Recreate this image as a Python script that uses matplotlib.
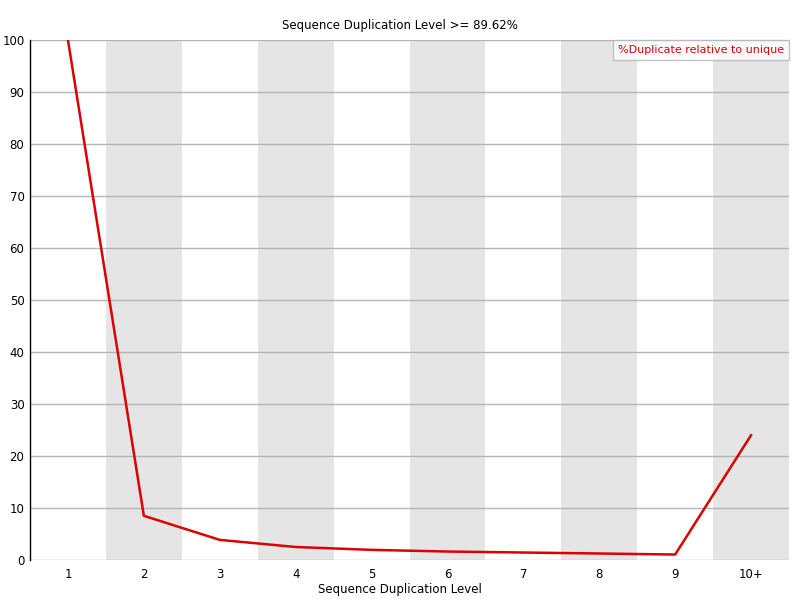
import matplotlib
matplotlib.use("Agg")
import matplotlib.pyplot as plt

# Data
levels = ["1", "2", "3", "4", "5", "6", "7", "8", "9", "10+"]
dup_pct = [100.0, 8.5, 3.87, 2.5, 1.95, 1.63, 1.44, 1.25, 1.05, 24.0]
y_ticks = [0, 10, 20, 30, 40, 50, 60, 70, 80, 90, 100]

title = "Sequence Duplication Level >= 89.62%"
xlabel = "Sequence Duplication Level"
legend_label = "%Duplicate relative to unique"

plt.rcParams["font.family"] = "DejaVu Sans"

fig = plt.figure(figsize=(8, 6), dpi=100)
ax = fig.add_axes([30 / 800, 40 / 600, 759 / 800, 520 / 600])

x = list(range(1, len(levels) + 1))

# alternating background bands
for i in x:
    if i % 2 == 0:
        ax.axvspan(i - 0.5, i + 0.5, color="#e5e5e5", lw=0, zorder=0)

for yt in y_ticks:
    ax.axhline(yt, color="#b4b4b4", lw=1, zorder=1)

ax.plot(x, dup_pct, color="#dd0000", lw=1.8, zorder=3, label=legend_label)

ax.set_xlim(0.5, len(levels) + 0.5)
ax.set_ylim(0, 100)
ax.set_xticks(x)
ax.set_xticklabels(levels)
ax.set_yticks(y_ticks)
ax.tick_params(length=0, labelsize=8.5, pad=6)
ax.tick_params(axis="y", pad=4)

for s in ["top", "right", "bottom"]:
    ax.spines[s].set_visible(False)
ax.spines["left"].set_color("black")
ax.spines["left"].set_linewidth(1)

fig.text(0.5, 1 - 590 / 600, xlabel, ha="center", va="center", fontsize=8.5)
fig.text(0.5, 1 - 25 / 600, title, ha="center", va="center", fontsize=8.5)

leg = ax.legend(loc="upper right", fontsize=8, frameon=True, fancybox=False,
                handlelength=0, handletextpad=0, borderpad=0.45,
                borderaxespad=0.0, bbox_to_anchor=(1.0, 1.0))
leg.get_frame().set_edgecolor("#b4b4b4")
leg.get_frame().set_linewidth(1)
for h in leg.legend_handles:
    h.set_visible(False)
for t in leg.get_texts():
    t.set_color("#dd0000")

fig.savefig("out.png", dpi=100)
